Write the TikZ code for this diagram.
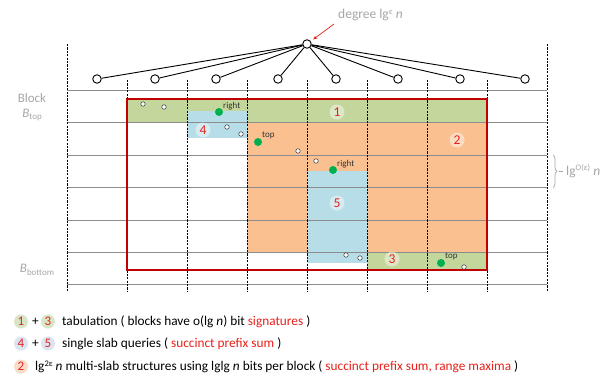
\documentclass[tikz,border=0pt]{standalone}
\usepackage{fontspec}
\setmainfont{Carlito}
\usetikzlibrary{decorations.pathreplacing,arrows.meta}
\definecolor{slabgreen}{HTML}{C3D69B}
\definecolor{slabblue}{HTML}{B7DEE8}
\definecolor{slaborange}{HTML}{FAC090}
\definecolor{boxred}{HTML}{C00000}
\definecolor{dotgreen}{HTML}{00B050}
\definecolor{labelgray}{HTML}{A6A6A6}
\definecolor{txtred}{HTML}{E8201A}
\definecolor{gridgray}{HTML}{8C8C8C}
\definecolor{lgreen}{HTML}{D8E6C8}
\definecolor{lblue}{HTML}{DCE4F2}
\definecolor{lorange}{HTML}{FBDCC8}
\newcommand{\mysup}[1]{\raisebox{0.65ex}{\fontsize{8.5}{8.5}\selectfont #1}}
\newcommand{\mysub}[1]{\raisebox{-0.45ex}{\fontsize{9}{9}\selectfont #1}}
\begin{document}
\begin{tikzpicture}[x=1pt,y=-1pt,
  treenode/.style={circle,draw=black,fill=white,line width=0.9pt,minimum size=8.5pt,inner sep=0pt},
  treeedge/.style={line width=0.9pt},
  vdash/.style={line width=0.8pt,dash pattern=on 2.2pt off 1.2pt},
  hline/.style={gridgray,line width=0.8pt},
  numc/.style={circle,fill=white,fill opacity=0.45,text opacity=1,text=txtred,inner sep=0pt,minimum size=15pt,font=\fontsize{13.5}{13.5}\selectfont},
  gdot/.style={circle,fill=dotgreen,inner sep=0pt,minimum size=8pt},
  wdot/.style={circle,draw=black!70,fill=white,line width=0.6pt,inner sep=0pt,minimum size=4.5pt},
  tag/.style={font=\fontsize{9}{9}\selectfont,text=black!80,inner sep=0pt,anchor=south west},
  legc/.style={circle,inner sep=0pt,minimum size=14pt,text=txtred,font=\fontsize{13}{13}\selectfont},
  legt/.style={anchor=west,inner sep=0pt,font=\fontsize{13.3}{15}\selectfont},
  side/.style={text=labelgray,font=\fontsize{13}{13}\selectfont,inner sep=0pt}]
\useasboundingbox (0,0) rectangle (601,378);

% shaded regions
\fill[slabgreen] (127,99) rectangle (487,122.5);
\fill[slaborange] (247,122.5) rectangle (487,252);
\fill[slabgreen] (367,252) rectangle (487,270);
\fill[slabblue] (187,111) rectangle (247,138);
\fill[slabblue] (307,171) rectangle (367,263);

% horizontal block boundaries
\foreach \yy in {90,122.5,155,187.5,220,252,284.5}
  \draw[hline] (67,\yy) -- (547,\yy);

% slab boundaries
\foreach \xx in {67,547}
  \draw[vdash] (\xx,44) -- (\xx,292);
\foreach \xx in {127,187,247,307,367,427,487}
  \draw[vdash] (\xx,80) -- (\xx,292);

% query rectangle
\draw[boxred,line width=1.8pt] (127,99) rectangle (487,270);

% points
\foreach \px/\py in {143/104,164/107,227/127,241/134,298/151,316/161,346/255,360/258,464/267}
  \node[wdot] at (\px,\py) {};
\node[gdot] (g1) at (219,112) {};
\node[tag] at (223,110) {right};
\node[gdot] (g2) at (258,142) {};
\node[tag] at (262,139) {top};
\node[gdot] (g3) at (333,170) {};
\node[tag] at (337,168) {right};
\node[gdot] (g4) at (441,263) {};
\node[tag] at (445,260) {top};

% region numbers
\node[numc] (n1) at (337,112) {1};
\node[numc] (n2) at (457,140) {2};
\node[numc] (n4) at (203,130) {4};
\node[numc] (n5) at (337,203) {5};
\node[numc] (n3) at (392,259) {3};

% tree over the slabs
\node[treenode] (root) at (307,44) {};
\foreach \i/\cx in {1/97,2/155,3/216,4/278,5/336,6/398,7/460,8/525}
  \node[treenode] (c\i) at (\cx,79) {};
\foreach \i in {1,...,8}
  \draw[treeedge] (root) -- (c\i);
\node[side,anchor=west,font=\fontsize{13.5}{13.5}\selectfont] (deg) at (338,15) {degree lg\mysup{ε} \textit{n}};
\coordinate (degtail) at (334,24);
\draw[txtred,line width=0.7pt,-{Stealth[length=4pt,width=3.5pt]},shorten >=3pt] (degtail) -- (root);

% side labels
\node[side] (blk) at (32,98.5) {Block};
\node[side] (btop) at (32,115) {\textit{B}\mysub{top}};
\node[side] (bbot) at (37,270) {\textit{B}\mysub{bottom}};
\draw[decorate,decoration={brace,amplitude=4pt},labelgray,line width=0.7pt] (553,155) -- (553,187.5);
\draw[labelgray,line width=0.7pt] (559,171) -- (563,171);
\node[side,anchor=west,font=\fontsize{13.5}{13.5}\selectfont] (lgo) at (566,171) {lg\mysup{O(ε)} \textit{n}};

% legend
\node[legc,fill=lgreen] (l1) at (21,321.5) {1};
\node[legt] at (32,321.5) {+};
\node[legc,fill=lgreen] (l3) at (48,321.5) {3};
\node[legt] at (62,321.5) {tabulation ( blocks have o(lg \textit{n}) bit \textcolor{txtred}{signatures} )};
\node[legc,fill=lblue] (l4) at (21,343.5) {4};
\node[legt] at (32,343.5) {+};
\node[legc,fill=lblue] (l5) at (48,343.5) {5};
\node[legt] at (62,343.5) {single slab queries ( \textcolor{txtred}{succinct prefix sum} )};
\node[legc,fill=lorange] (l2) at (21,366.5) {2};
\node[legt] at (35,366.5) {lg\mysup{2ε} \textit{n} multi-slab structures using lglg \textit{n} bits per block ( \textcolor{txtred}{succinct prefix sum, range maxima} )};
\end{tikzpicture}
\end{document}
